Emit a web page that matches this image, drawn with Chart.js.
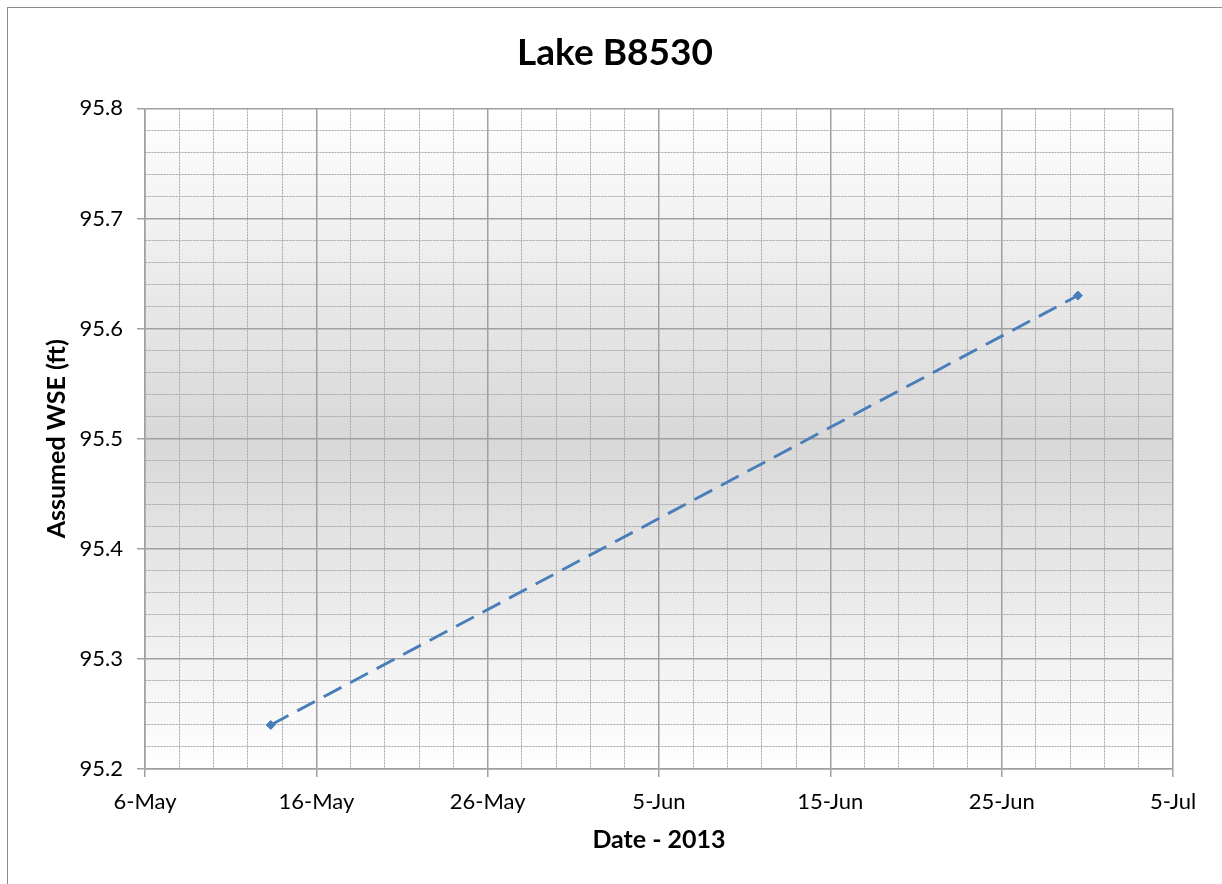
<!DOCTYPE html>
<html>
<head>
<meta charset="utf-8">
<script src="https://cdn.jsdelivr.net/npm/chart.js@4.4.1/dist/chart.umd.min.js"></script>
<style>
  html, body { margin: 0; padding: 0; background: #ffffff; overflow: hidden; }
  #wrap { position: absolute; left: 0; top: 0; width: 1222px; height: 884px; }
  #frame { position: absolute; left: 7px; top: 7px; width: 1400px; height: 1000px; border: 1px solid #8c8c8c; box-sizing: border-box; }
  canvas { position: absolute; left: 0; top: 0; }
</style>
</head>
<body>
<div id="wrap">
  <div id="frame"></div>
  <canvas id="c" width="1222" height="884"></canvas>
</div>
<script>
// ---- Data (dates as Excel-style day serials; 41400 = 6-May-2013) ----
const chartTitle = 'Lake B8530';
const xAxisTitle = 'Date - 2013';
const yAxisTitle = 'Assumed WSE (ft)';
const dateSerials = [41407.34, 41454.45];
const wseValues = [95.24, 95.63];
const xTickLabels = ['6-May', '16-May', '26-May', '5-Jun', '15-Jun', '25-Jun', '5-Jul'];
const xStart = 41400;
const xEnd = 41460;
const yMin = 95.2;
const yMax = 95.8;

const points = dateSerials.map((d, i) => ({ x: d, y: wseValues[i] }));

const FONT = 'Lato, "Open Sans", "Liberation Sans", sans-serif';
const MAJOR = '#a0a0a0';
const MINOR = '#a6a6a6';
const MINOR_DASH = [2, 1];

function isMajorX(v) { const r = (v - xStart) / 10; return Math.abs(r - Math.round(r)) < 1e-6; }
function isMajorY(v) { return Math.abs(v * 10 - Math.round(v * 10)) < 1e-6; }

const bgPlugin = {
  id: 'plotBg',
  beforeDraw(chart) {
    const { ctx, chartArea: a } = chart;
    const g = ctx.createLinearGradient(0, a.top, 0, a.bottom);
    g.addColorStop(0, '#ffffff');
    g.addColorStop(0.5, '#d8d8d8');
    g.addColorStop(1, '#ffffff');
    ctx.save();
    ctx.fillStyle = g;
    ctx.fillRect(a.left, a.top, a.right - a.left, a.bottom - a.top);
    ctx.restore();
  }
};

function gridFor(isMajor) {
  return {
    drawOnChartArea: true,
    drawTicks: true,
    tickLength: 8,
    lineWidth: (ctx) => (ctx.tick && isMajor(ctx.tick.value)) ? 1.5 : 1,
    color: (ctx) => (ctx.tick && isMajor(ctx.tick.value)) ? MAJOR : MINOR,
    tickColor: (ctx) => (ctx.tick && isMajor(ctx.tick.value)) ? MAJOR : 'rgba(0,0,0,0)',
    tickWidth: 1.5
  };
}
function borderFor(isMajor) {
  return {
    display: true,
    color: MAJOR,
    width: 1.5,
    dash: (ctx) => (ctx.tick && !isMajor(ctx.tick.value)) ? MINOR_DASH : []
  };
}

new Chart(document.getElementById('c'), {
  type: 'scatter',
  data: {
    datasets: [{
      data: points,
      showLine: true,
      borderColor: '#4a7ebb',
      backgroundColor: '#4a7ebb',
      borderWidth: 2.9,
      borderDash: [20, 10],
      pointStyle: 'rectRot',
      pointRadius: 4.5,
      pointBorderWidth: 1,
      pointBorderColor: '#4a7ebb',
      pointBackgroundColor: '#4a7ebb'
    }]
  },
  options: {
    responsive: false,
    animation: false,
    devicePixelRatio: 1,
    layout: { padding: { left: 8, right: 0, top: 0, bottom: 0 } },
    plugins: {
      legend: { display: false },
      tooltip: { enabled: false },
      title: {
        display: true,
        text: chartTitle,
        color: '#000000',
        font: { family: FONT, size: 37, weight: 'bold', lineHeight: 1.2 },
        padding: { top: 31, bottom: 33 }
      }
    },
    scales: {
      x: {
        type: 'linear',
        min: xStart,
        max: xEnd,
        afterFit(scale) { scale.height = 115; },
        ticks: {
          stepSize: 2,
          autoSkip: false,
          maxRotation: 0,
          minRotation: 0,
          padding: 12,
          color: '#000000',
          font: { family: FONT, size: 22 },
          callback(v) {
            if (!isMajorX(v)) return '';
            return xTickLabels[Math.round((v - xStart) / 10)];
          }
        },
        grid: gridFor(isMajorX),
        border: borderFor(isMajorX),
        title: {
          display: true,
          text: xAxisTitle,
          color: '#000000',
          font: { family: FONT, size: 25, weight: 'bold', lineHeight: 1.2 },
          padding: { top: 0, bottom: 29 }
        }
      },
      y: {
        type: 'linear',
        min: yMin,
        max: yMax,
        afterFit(scale) { scale.width = 137; },
        ticks: {
          stepSize: 0.02,
          autoSkip: false,
          padding: 14,
          color: '#000000',
          font: { family: FONT, size: 22 },
          callback(v) {
            if (!isMajorY(v)) return '';
            return (Math.round(v * 10) / 10).toFixed(1);
          }
        },
        grid: gridFor(isMajorY),
        border: borderFor(isMajorY),
        title: {
          display: true,
          text: yAxisTitle,
          color: '#000000',
          font: { family: FONT, size: 25, weight: 'bold', lineHeight: 1.2 },
          padding: { top: 34, bottom: 0 }
        }
      },
      spacer: {
        type: 'linear',
        position: 'right',
        display: true,
        afterFit(scale) { scale.width = 49; },
        ticks: { display: false },
        grid: { display: false, drawOnChartArea: false, drawTicks: false },
        border: { display: false },
        title: { display: false }
      }
    }
  },
  plugins: [bgPlugin]
});
</script>
</body>
</html>
